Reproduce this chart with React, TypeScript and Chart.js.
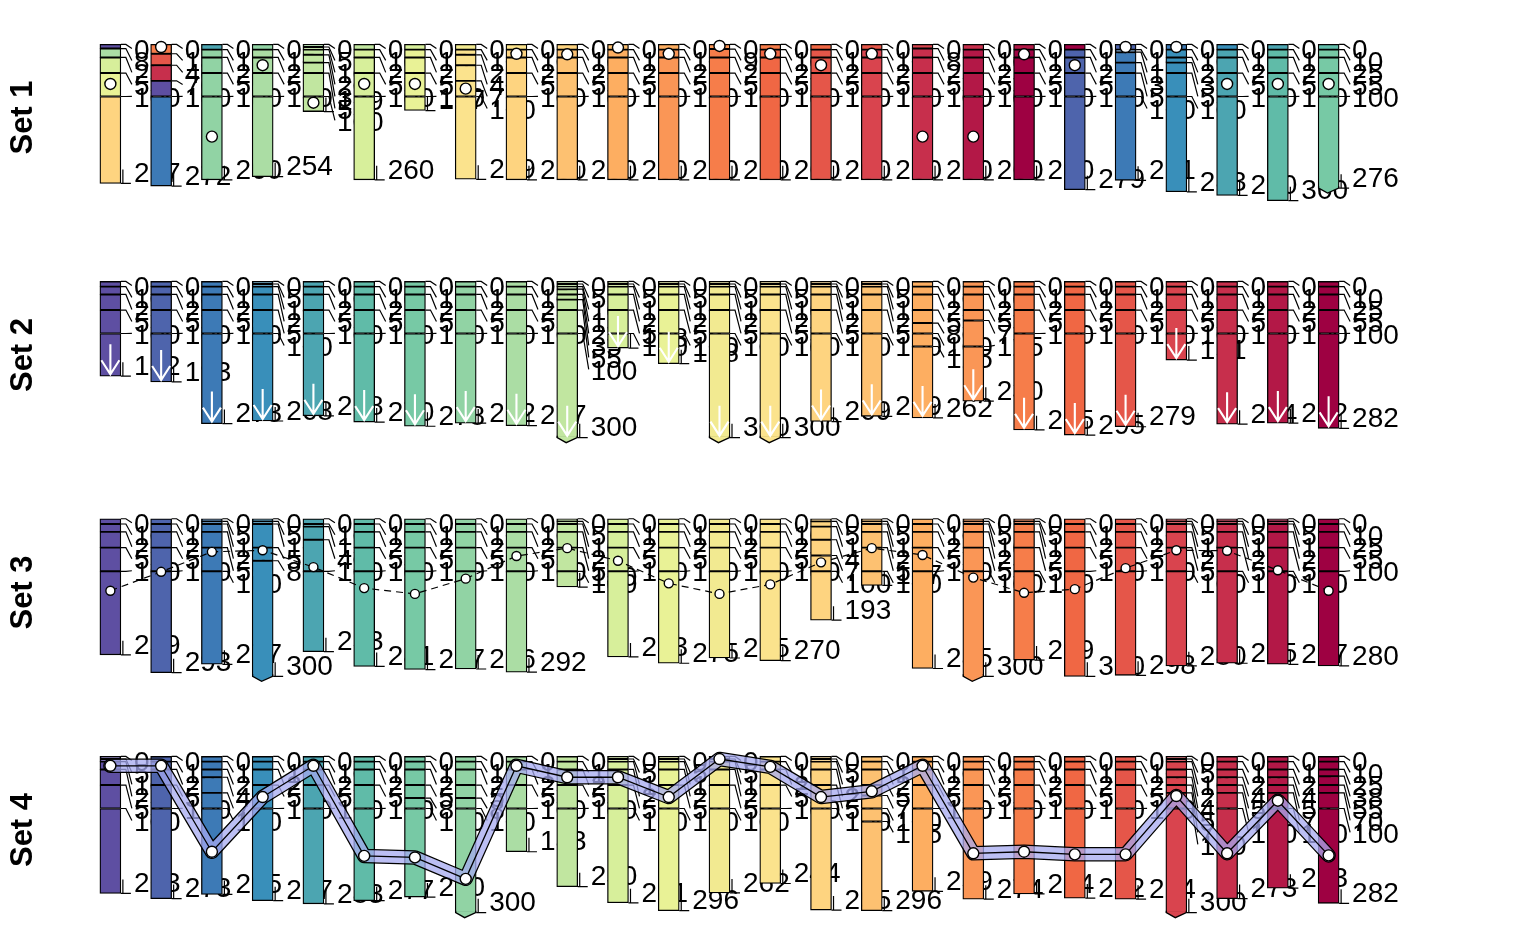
import React, { useEffect, useRef } from "react";
import { Chart, registerables } from "chart.js";
Chart.register(...registerables);

// ---------------- data ----------------
const COLUMN_IDS = ["1","2","3","4","5","6","7","8","9","10","11","12","13","14","15","16","17","18","19","20","21","22","23","24","25"];
const SET_NAMES = ["Set 1", "Set 2", "Set 3", "Set 4"];

const PALETTE = ["#5E4FA2","#4E64AC","#3D7AB6","#398FBA","#4CA5B1","#60BBA8","#77C9A5","#91D3A4","#ABDDA4","#C1E6A0","#D7EF9B","#E9F296","#F2EA91","#FBE38D","#FED480","#FDC171","#FDAE61","#FA9656","#F67D4A","#F06744","#E55649","#D9444E","#C72F4C","#B31847","#9E0142"];

// Set 1
const SET1_BOUNDS = [
  [0,8,25,55,100,267],[0,18,40,70,100,272],[0,10,25,55,100,260],[0,10,25,55,100,254],[0,5,10,20,35,55,100,129],
  [0,10,25,55,100,260],[0,10,25,55,100,127],[0,10,20,40,70,100,259],[0,10,25,55,100,260],[0,10,25,55,100,260],
  [0,10,25,55,100,260],[0,10,25,55,100,260],[0,9,25,55,100,260],[0,10,25,55,100,260],[0,10,25,55,100,260],
  [0,10,25,55,100,260],[0,8,25,55,100,260],[0,10,25,55,100,260],[0,10,25,55,100,260],[0,10,25,55,100,279],
  [0,10,15,35,55,100,261],[0,10,25,35,55,100,283],[0,10,25,55,100,290],[0,10,25,55,100,300],[0,10,25,55,100,276]
];
const SET1_MAIN = [15,3,8,9,10,11,12,14,15,16,17,18,19,20,21,22,23,24,25,2,3,4,5,6,7];
const SET1_TOP = [1,19,5,8,9,10,11,13,14,15,16,17,18,19,20,21,22,23,24,25,2,3,4,5,6];
const SET1_SPECIAL: Record<number, number[]> = { 0: [1,9,11,12,15], 1: [19,21,23,1,3] };
const SET1_POINTS = [76,5,177,40,112,76,76,85,18,19,6,18,3,18,40,18,177,177,19,40,5,5,76,76,76];
const SET1_TRUNC = [24];

// Set 2
const SET2_BOUNDS = [
  [0,10,25,55,100,182],[0,10,25,55,100,193],[0,10,25,55,100,273],[0,5,10,25,55,100,268],[0,10,25,55,100,258],
  [0,10,25,55,100,270],[0,10,25,55,100,278],[0,10,25,55,100,272],[0,10,25,55,100,277],[0,5,10,15,25,35,55,100,300],
  [0,5,10,25,55,100,128],[0,5,10,25,55,100,158],[0,5,10,25,55,100,300],[0,5,10,25,55,100,300],[0,5,10,25,55,100,269],
  [0,5,10,25,55,100,259],[0,10,25,55,80,100,125,262],[0,10,25,55,75,125,230],[0,10,25,55,100,285],[0,10,25,55,100,295],
  [0,10,25,55,100,279],[0,10,25,55,100,151],[0,10,25,55,100,274],[0,10,25,55,100,272],[0,10,25,55,100,282]
];
const SET2_TRUNC = [9,12,13];

// Set 3
const SET3_BOUNDS = [
  [0,10,25,55,100,259],[0,10,25,55,100,293],[0,5,10,25,55,100,277],[0,5,10,55,80,300],[0,10,15,40,100,253],
  [0,10,25,55,100,281],[0,10,25,55,100,287],[0,10,25,55,100,286],[0,10,25,55,100,292],[0,5,10,25,55,100,130],
  [0,10,25,55,100,263],[0,10,25,55,100,275],[0,10,25,55,100,265],[0,10,25,55,100,270],[0,5,15,40,70,100,193],
  [0,5,10,25,55,100,127],[0,10,25,55,100,285],[0,5,10,25,55,100,300],[0,5,10,25,55,100,269],[0,10,25,55,100,300],
  [0,10,25,55,100,298],[0,5,10,25,55,100,280],[0,5,10,25,55,100,275],[0,5,10,25,55,100,277],[0,10,25,55,100,280]
];
const SET3_POINTS = [137,101,63,60,92,132,143,114,71,56,80,123,143,125,83,56,69,112,141,134,94,60,61,98,137];
const SET3_TRUNC = [3,17];

// Set 4
const SET4_BOUNDS = [
  [0,5,10,25,55,100,263],[0,10,25,55,100,273],[0,10,25,40,70,100,265],[0,10,25,55,100,277],[0,10,25,55,100,283],
  [0,10,25,55,100,277],[0,10,25,55,80,100,270],[0,10,25,55,80,100,300],[0,10,25,55,100,183],[0,10,25,55,100,250],
  [0,5,10,25,55,100,281],[0,5,10,25,55,100,296],[0,5,10,25,55,100,262],[0,10,25,55,100,244],[0,5,10,25,55,100,295],
  [0,10,25,55,75,100,125,296],[0,10,25,55,100,259],[0,10,25,55,100,274],[0,10,25,55,100,264],[0,10,25,55,100,272],
  [0,10,25,55,100,274],[0,5,10,25,40,55,70,100,300],[0,10,25,40,55,70,100,273],[0,10,25,40,55,70,100,253],[0,10,25,38,55,70,100,282]
];
const SET4_POINTS = [18,18,183,78,18,191,194,235,18,40,40,78,5,20,78,67,18,186,183,188,188,76,186,85,190];
const SET4_TRUNC = [7,21];

// ---------------- chart helpers ----------------
const Y_MIN = -72;
const ROW_HEIGHTS = [237, 238, 237, 238];
const PX_PER_UNIT = 0.553;
const BAR_W = 21;
const LABEL_FONT = "28px 'Liberation Sans', Arial, sans-serif";

type RowSpec = {
  name: string;
  bounds: number[][];
  fills: number[][];
  points: (number | null)[];
  trunc: number[];
  mode: "dots" | "arrows" | "dashed" | "band";
};

function uniformFills(bounds: number[][]): number[][] {
  return bounds.map((b, i) => b.slice(1).map(() => i + 1));
}

const SET1_FILLS = SET1_BOUNDS.map((b, i) =>
  SET1_SPECIAL[i] ? SET1_SPECIAL[i] : b.slice(1).map((_, j) => (j === 0 ? SET1_TOP[i] : SET1_MAIN[i]))
);

const ROWS: RowSpec[] = [
  { name: SET_NAMES[0], bounds: SET1_BOUNDS, fills: SET1_FILLS, points: SET1_POINTS, trunc: SET1_TRUNC, mode: "dots" },
  { name: SET_NAMES[1], bounds: SET2_BOUNDS, fills: uniformFills(SET2_BOUNDS), points: SET2_BOUNDS.map(() => null), trunc: SET2_TRUNC, mode: "arrows" },
  { name: SET_NAMES[2], bounds: SET3_BOUNDS, fills: uniformFills(SET3_BOUNDS), points: SET3_POINTS, trunc: SET3_TRUNC, mode: "dashed" },
  { name: SET_NAMES[3], bounds: SET4_BOUNDS, fills: uniformFills(SET4_BOUNDS), points: SET4_POINTS, trunc: SET4_TRUNC, mode: "band" },
];

function drawColumnExtras(chart: any, spec: RowSpec, c: number) {
  const ctx: CanvasRenderingContext2D = chart.ctx;
  const xs = chart.scales.x;
  const ys = chart.scales.y;
  const yp = (v: number) => ys.getPixelForValue(v);
  const b = spec.bounds[c];
  const n = b.length;
  const cx = xs.getPixelForValue(c);
  const xl = cx - BAR_W / 2, xr = cx + BAR_W / 2, w = BAR_W;
  const yb = yp(b[n - 1]);

  ctx.save();
  // truncated (wavy) bottom
  if (spec.trunc.includes(c)) {
    const col = PALETTE[spec.fills[c][spec.fills[c].length - 1] - 1];
    ctx.fillStyle = col;
    ctx.beginPath();
    ctx.moveTo(xl + 0.7, yb - 1.5);
    ctx.lineTo(xr - 0.7, yb - 1.5);
    ctx.lineTo(xr - 0.7, yb);
    ctx.lineTo(xl + 0.45 * w, yb + 5);
    ctx.lineTo(xl + 0.7, yb);
    ctx.closePath();
    ctx.fill();
    ctx.strokeStyle = "#000";
    ctx.lineWidth = 1.3;
    ctx.beginPath();
    ctx.moveTo(xl + 0.5, yb - 2);
    ctx.lineTo(xl + 0.5, yb);
    ctx.lineTo(xl + 0.45 * w, yb + 5);
    ctx.lineTo(xr - 0.5, yb);
    ctx.lineTo(xr - 0.5, yb - 2);
    ctx.stroke();
  }
  // arrow
  if (spec.mode === "arrows") {
    const ya = yb - 2;
    ctx.strokeStyle = "#FFFFFF";
    ctx.lineWidth = 2.1;
    ctx.beginPath();
    ctx.moveTo(cx, ya - 30);
    ctx.lineTo(cx, ya);
    ctx.moveTo(cx - 9, ya - 14);
    ctx.lineTo(cx, ya);
    ctx.lineTo(cx + 9, ya - 14);
    ctx.stroke();
  }
  // labels with leader lines
  ctx.font = LABEL_FONT;
  ctx.fillStyle = "#000";
  ctx.strokeStyle = "#000";
  ctx.lineWidth = 1.2;
  ctx.textBaseline = "middle";
  ctx.textAlign = "left";
  const py = b.map(yp);
  const lab = py.slice();
  lab[0] = py[0] + 6;
  for (let i = 1; i < n - 1; i++) lab[i] = Math.max(py[i], lab[i - 1] + 12);
  lab[n - 1] = py[n - 1] - 10;
  for (let i = 0; i < n; i++) {
    ctx.beginPath();
    if (i === n - 1) {
      ctx.moveTo(xr, py[i]);
      ctx.lineTo(xr + 10, py[i]);
      ctx.moveTo(xr + 2, py[i]);
      ctx.lineTo(xr + 2, lab[i] - 4);
    } else {
      ctx.moveTo(xr, py[i]);
      ctx.lineTo(xr + 5, py[i]);
      ctx.lineTo(xr + 11, lab[i] - 2);
    }
    ctx.stroke();
    ctx.fillText(String(b[i]), xr + 13, lab[i] + 1);
  }
  ctx.restore();
}

const stratPlugin = {
  id: "strat",
  afterDatasetDraw(chart: any, args: any) {
    const spec: RowSpec = chart.options.plugins.strat.spec;
    const ds = chart.data.datasets[args.index];
    if (ds.lastSeg) drawColumnExtras(chart, spec, ds.colIdx);
  },
  beforeDatasetDraw(chart: any, args: any) {
    const spec: RowSpec = chart.options.plugins.strat.spec;
    if (args.meta.type !== "line" || spec.mode !== "band") return;
    const ctx: CanvasRenderingContext2D = chart.ctx;
    const pts = args.meta.data.map((el: any) => [el.x, el.y]);
    const off = document.createElement("canvas");
    off.width = chart.width;
    off.height = chart.height;
    const o = off.getContext("2d") as CanvasRenderingContext2D;
    const trace = (g: CanvasRenderingContext2D) => {
      g.beginPath();
      pts.forEach((p: number[], i: number) => (i ? g.lineTo(p[0], p[1]) : g.moveTo(p[0], p[1])));
    };
    o.lineJoin = "round";
    o.lineCap = "round";
    trace(o);
    o.strokeStyle = "#000";
    o.lineWidth = 14.5;
    o.stroke();
    o.globalCompositeOperation = "destination-out";
    o.lineWidth = 12;
    o.stroke();
    ctx.save();
    ctx.lineJoin = "round";
    ctx.lineCap = "round";
    ctx.globalAlpha = 0.75;
    ctx.strokeStyle = "#A5AAF0";
    ctx.lineWidth = 12.5;
    trace(ctx);
    ctx.stroke();
    ctx.globalAlpha = 1;
    ctx.drawImage(off, 0, 0, chart.width, chart.height);
    ctx.restore();
  },
  afterDraw(chart: any) {
    const spec: RowSpec = chart.options.plugins.strat.spec;
    const ctx = chart.ctx;
    ctx.save();
    ctx.translate(23, chart.height / 2 - 1);
    ctx.rotate(-Math.PI / 2);
    ctx.font = "bold 31px 'Liberation Sans', Arial, sans-serif";
    ctx.fillStyle = "#000";
    ctx.textAlign = "center";
    ctx.textBaseline = "middle";
    ctx.fillText(spec.name, 0, 0);
    ctx.restore();
  },
};

function StratRow({ spec, height }: { spec: RowSpec; height: number }) {
  const ref = useRef<HTMLCanvasElement>(null);
  useEffect(() => {
    const datasets: any[] = [];
    spec.bounds.forEach((b, c) => {
      const segs = b.length - 1;
      for (let j = 0; j < segs; j++) {
        datasets.push({
          type: "bar",
          data: spec.bounds.map((_, k) => (k === c ? [b[j], b[j + 1]] : null)),
          backgroundColor: PALETTE[spec.fills[c][j] - 1],
          borderColor: "#000",
          borderWidth: 1.3,
          borderSkipped: false,
          barThickness: BAR_W,
          grouped: false,
          order: 10000 - (c * 20 + j),
          colIdx: c,
          lastSeg: j === segs - 1,
        });
      }
    });
    datasets.push({
      type: "line",
      data: spec.points,
      showLine: spec.mode === "dashed" || spec.mode === "band",
      borderColor: "#000",
      borderWidth: spec.mode === "band" ? 1.3 : 1.2,
      borderDash: spec.mode === "dashed" ? [7, 5] : [],
      pointRadius: spec.mode === "dashed" ? 4.5 : 5.5,
      pointBackgroundColor: "#FFFFFF",
      pointBorderColor: "#000",
      pointBorderWidth: 1.4,
      tension: 0,
      clip: false,
      order: -1,
    });
    const chart = new Chart(ref.current as HTMLCanvasElement, {
      type: "bar",
      data: { labels: COLUMN_IDS, datasets },
      options: {
        animation: false,
        responsive: false,
        layout: { padding: { left: 85, right: 182, top: 0, bottom: 0 } },
        scales: {
          x: { type: "category", offset: true, display: false },
          y: {
            type: "linear",
            reverse: true,
            display: false,
            min: Y_MIN,
            max: Y_MIN + height / PX_PER_UNIT,
          },
        },
        plugins: {
          legend: { display: false },
          tooltip: { enabled: false },
          strat: { spec },
        } as any,
      },
      plugins: [stratPlugin as any],
    });
    return () => chart.destroy();
  }, [spec, height]);
  return <canvas ref={ref} width={1536} height={height} style={{ display: "block" }} />;
}

export default function App() {
  return (
    <div style={{ position: "absolute", left: 0, top: 0, width: 1536, height: 950, background: "#fff" }}>
      {ROWS.map((r, i) => (
        <StratRow key={r.name} spec={r} height={ROW_HEIGHTS[i]} />
      ))}
    </div>
  );
}
